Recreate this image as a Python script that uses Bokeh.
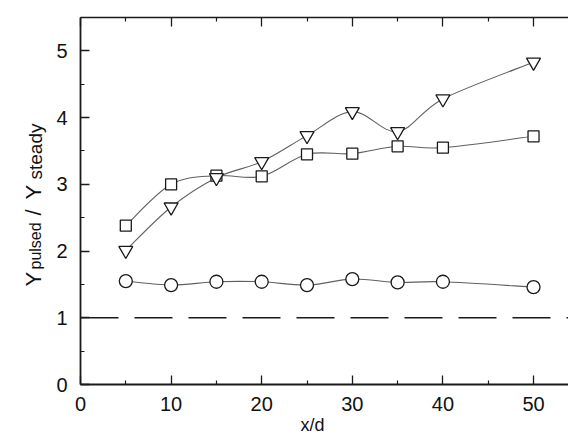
from math import pi

from bokeh.embed import file_html
from bokeh.models import FixedTicker, Label, LinearAxis, Range1d
from bokeh.plotting import figure
from bokeh.resources import INLINE

# Downstream distance (x/d) of each measurement station
x_d = [5, 10, 15, 20, 25, 30, 35, 40, 50]

# Pulsed / steady ratio for each forcing case
ratio_square = [2.38, 3.00, 3.13, 3.12, 3.45, 3.46, 3.57, 3.55, 3.72]
ratio_triangle = [2.01, 2.66, 3.10, 3.34, 3.73, 4.09, 3.79, 4.28, 4.83]
ratio_circle = [1.55, 1.49, 1.54, 1.54, 1.49, 1.58, 1.53, 1.54, 1.46]

# Steady-jet reference level
steady_level = [1.0]
origin_x = [0]

# Axis extents and ticks
x_axis_end = 53.86
y_axis_end = 5.5
x_major = [0, 10, 20, 30, 40, 50]
x_minor = [5, 15, 25, 35, 45]
y_major = [0, 1, 2, 3, 4, 5]
y_minor = [0.5, 1.5, 2.5, 3.5, 4.5, 5.5]

FONT = "Liberation Sans"
INK = "#1a1a1a"
TEXT = "#111111"
CURVE = "#606060"

# The plotting frame spans the whole canvas; the axes are pinned at the
# data origin so the titles in the margins are drawn inside the frame.
p = figure(
    width=568, height=435,
    x_range=Range1d(-8.83, x_axis_end), y_range=Range1d(-0.764, 5.755),
    output_backend="svg", toolbar_location=None,
    x_axis_location=None, y_axis_location=None,
    min_border=0,
)
p.outline_line_color = None
p.grid.visible = False
p.background_fill_color = "white"
p.border_fill_color = "white"


def style_axis(ax, ticks, minor, show_labels=True):
    ax.ticker = FixedTicker(ticks=ticks, minor_ticks=minor)
    ax.axis_line_color = INK
    ax.axis_line_width = 1.8
    ax.major_tick_line_color = INK
    ax.minor_tick_line_color = INK
    ax.major_tick_line_width = 1.3
    ax.minor_tick_line_width = 1.2
    ax.major_tick_in = 9
    ax.major_tick_out = 0
    ax.minor_tick_in = 4
    ax.minor_tick_out = 0
    ax.major_label_text_font = FONT
    ax.major_label_text_color = TEXT
    ax.major_label_text_font_size = "20px"
    if not show_labels:
        ax.major_label_text_alpha = 0


left = LinearAxis(fixed_location=0, bounds=(0, y_axis_end))
style_axis(left, y_major, y_minor)
left.major_label_standoff = 13
p.add_layout(left, "left")

bottom = LinearAxis(fixed_location=0, bounds=(0, x_axis_end))
style_axis(bottom, x_major, x_minor)
bottom.major_label_standoff = 12
p.add_layout(bottom, "below")

top = LinearAxis(fixed_location=y_axis_end, bounds=(0, x_axis_end))
style_axis(top, x_major, x_minor, show_labels=False)
top.axis_line_width = 1.5
p.add_layout(top, "above")

# Steady reference line, starting at the y axis
p.ray(x=origin_x, y=steady_level, length=0, angle=0, line_color=INK,
      line_width=1.5, line_dash="38 16")


def smooth_segments(xs, ys):
    """Cardinal-spline (Catmull-Rom) handles so each series is drawn as a
    smooth curve passing exactly through its data points."""
    n = len(xs)
    seg = dict(x0=[], y0=[], x1=[], y1=[], cx0=[], cy0=[], cx1=[], cy1=[])
    for i in range(n - 1):
        a, b = max(i - 1, 0), min(i + 2, n - 1)
        seg["x0"].append(xs[i]); seg["y0"].append(ys[i])
        seg["x1"].append(xs[i + 1]); seg["y1"].append(ys[i + 1])
        seg["cx0"].append(xs[i] + (xs[i + 1] - xs[a]) / 6)
        seg["cy0"].append(ys[i] + (ys[i + 1] - ys[a]) / 6)
        seg["cx1"].append(xs[i + 1] - (xs[b] - xs[i]) / 6)
        seg["cy1"].append(ys[i + 1] - (ys[b] - ys[i]) / 6)
    return seg


# Connecting curves
for ys in (ratio_square, ratio_triangle, ratio_circle):
    p.bezier(source=smooth_segments(x_d, ys), x0="x0", y0="y0", x1="x1",
             y1="y1", cx0="cx0", cy0="cy0", cx1="cx1", cy1="cy1",
             line_color=CURVE, line_width=1.1)

# Open symbols
p.scatter(x_d, ratio_square, marker="square", size=11, fill_color="white",
          line_color=INK, line_width=1.3)
p.scatter(x_d, ratio_triangle, marker="inverted_triangle", size=14,
          fill_color="white", line_color=INK, line_width=1.3)
p.scatter(x_d, ratio_circle, marker="circle", size=13, fill_color="white",
          line_color=INK, line_width=1.3)

# x-axis title
p.add_layout(Label(x=312, y=11, x_units="screen", y_units="screen",
                   text="x/d", text_font=FONT, text_font_size="18px",
                   text_align="center", text_baseline="alphabetic",
                   text_color=TEXT))

# y-axis title built from pieces so the subscripts sit lower
y_title = [
    ("Y", 33, 149, "22px"),
    ("pulsed", 35, 166, "16px"),
    ("/", 33, 220, "22px"),
    ("Y", 33, 236, "22px"),
    ("steady", 35, 256, "19px"),
]
for txt, sx, sy, size in y_title:
    p.add_layout(Label(x=sx, y=sy, x_units="screen", y_units="screen",
                       text=txt, angle=pi / 2, text_font=FONT,
                       text_font_size=size, text_align="left",
                       text_baseline="alphabetic", text_color=TEXT))

open("out.html", "w").write(file_html(p, INLINE))
